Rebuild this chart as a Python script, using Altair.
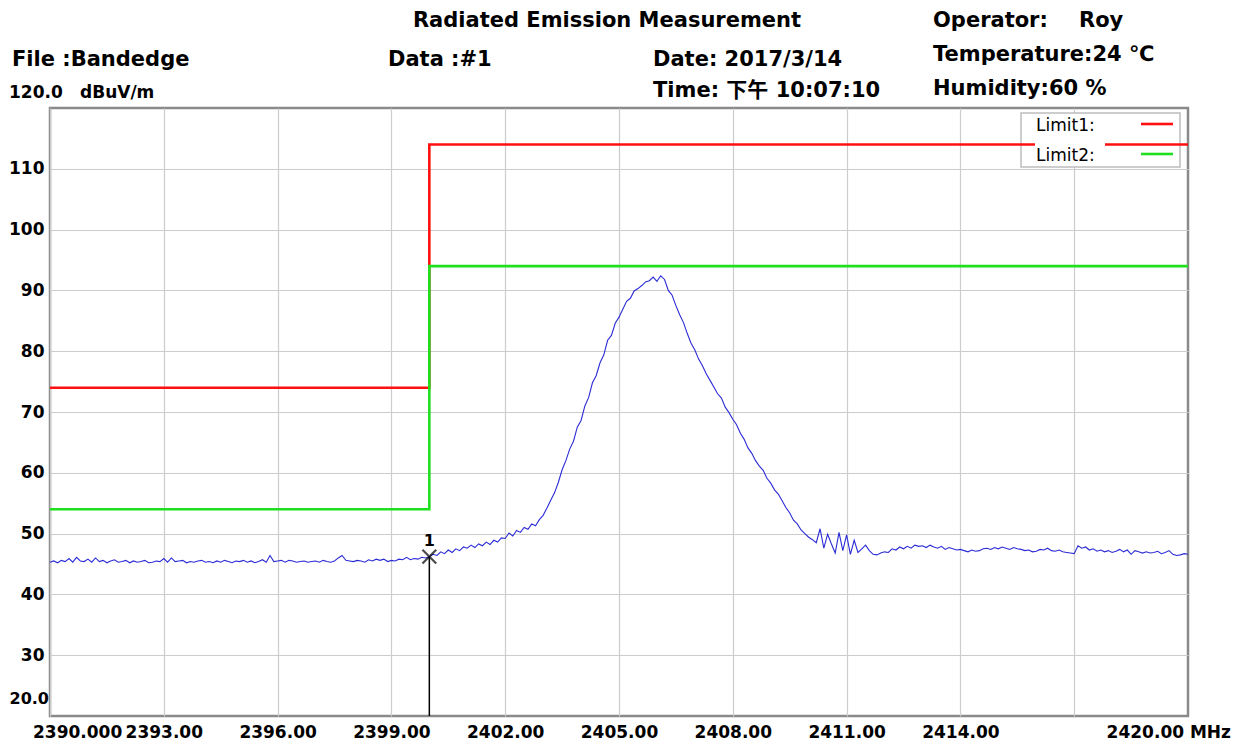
import altair as alt
import pandas as pd

# ---------------- data ----------------
FREQ_START = 2390.0   # MHz, first sweep point
FREQ_STEP = 0.1       # MHz between sweep points

level_dbuv = [
    45.3, 45.5, 45.2, 45.6, 45.4, 45.9, 45.3, 46.1, 45.5, 45.4,
    45.8, 45.3, 46.0, 45.4, 45.6, 45.2, 45.5, 45.7, 45.3, 45.4,
    45.6, 45.2, 45.5, 45.3, 45.4, 45.6, 45.2, 45.3, 45.5, 45.4,
    45.9, 45.3, 46.0, 45.4, 45.5, 45.6, 45.2, 45.4, 45.3, 45.5,
    45.6, 45.3, 45.4, 45.2, 45.5, 45.3, 45.6, 45.4, 45.2, 45.5,
    45.4, 45.6, 45.3, 45.5, 45.2, 45.4, 45.7, 45.3, 46.4, 45.4,
    45.5, 45.6, 45.3, 45.6, 45.5, 45.3, 45.4, 45.5, 45.3, 45.4,
    45.5, 45.3, 45.6, 45.4, 45.3, 45.5, 46.0, 46.4, 45.6, 45.5,
    45.4, 45.6, 45.5, 45.3, 45.7, 45.5, 45.8, 45.6, 45.8, 45.4,
    45.6, 45.5, 45.8, 45.7, 46.1, 45.7, 45.9, 45.8, 46.1, 46.0,
    46.2, 46.6, 46.4, 47.0, 46.7, 47.3, 46.9, 47.5, 47.2, 47.8,
    47.6, 48.1, 47.7, 48.3, 48.0, 48.6, 48.2, 48.9, 48.6, 49.3,
    49.2, 50.1, 49.6, 50.5, 50.2, 51.0, 50.7, 51.6, 51.3, 52.3,
    53.0, 54.2, 55.5, 56.7, 58.4, 60.5, 62.0, 63.9, 65.2, 67.5,
    68.6, 71.0, 72.4, 74.8, 76.0, 78.1, 79.4, 81.8, 82.6, 84.6,
    85.6, 86.9, 88.2, 88.7, 89.9, 90.3, 90.8, 91.4, 91.6, 92.2,
    91.5, 92.4, 91.8, 90.0, 89.2, 87.5, 86.0, 84.7, 82.9, 81.3,
    80.2, 78.7, 77.6, 76.3, 75.2, 74.1, 73.0, 72.3, 70.8, 69.9,
    68.8, 67.9, 66.5, 65.5, 64.1, 63.2, 62.0, 61.1, 60.4, 59.1,
    58.3, 57.2, 56.5, 55.4, 54.3, 53.4, 52.2, 51.6, 50.6, 50.0,
    49.4, 49.0, 48.5, 50.8, 47.6, 49.9, 48.3, 46.8, 50.2, 47.2,
    49.8, 46.6, 48.9, 46.9, 47.5, 48.1, 47.2, 46.6, 46.5, 46.8,
    47.0, 46.9, 47.5, 47.3, 47.8, 47.5, 47.9, 47.6, 48.1, 47.9,
    48.0, 47.7, 48.1, 47.8, 47.6, 47.9, 47.4, 47.7, 47.5, 47.3,
    47.4, 47.2, 47.0, 47.3, 47.1, 47.2, 47.5, 47.6, 47.4, 47.7,
    47.5, 47.8, 47.6, 47.4, 47.7, 47.5, 47.4, 47.2, 47.3, 47.0,
    47.1, 47.4, 47.3, 47.6, 47.2, 47.1, 47.3, 47.0, 46.9, 46.8,
    46.7, 48.0, 47.6, 47.8, 47.3, 47.5, 47.1, 47.3, 47.0, 47.2,
    46.9, 47.1, 47.4, 47.0, 47.3, 46.6, 47.2, 47.0, 46.8, 47.0,
    46.8, 46.9, 47.1, 46.7, 46.9, 47.2, 46.6, 46.4, 46.5, 46.7,
    46.6,
]

limit_freq = [2390, 2400, 2400, 2420]
limit1_level = [74, 74, 114, 114]
limit2_level = [54, 54, 94, 94]

marker_freq = [2400.0]
marker_level = [46.2]
marker_name = ["1"]

y_ticks = [30, 40, 50, 60, 70, 80, 90, 100, 110]
x_ticks = [2390, 2393, 2396, 2399, 2402, 2405, 2408, 2411, 2414, 2417]

# header texts: (text, x, center y, align, size, weight) in page pixels
header = [
    ("Radiated Emission Measurement", 607, 21, "center", 21, "bold"),
    ("Operator:", 933, 21, "left", 21, "bold"),
    ("Roy", 1079, 21, "left", 21, "bold"),
    ("File :Bandedge", 12, 60, "left", 21, "bold"),
    ("Data :#1", 388, 60, "left", 21, "bold"),
    ("Date: 2017/3/14", 653, 60, "left", 21, "bold"),
    ("Temperature:24 ℃", 933, 55, "left", 21, "bold"),
    ("120.0", 9, 93, "left", 17, "bold"),
    ("dBuV/m", 80, 93, "left", 17, "bold"),
    ("Time: 下午 10:07:10", 653, 91, "left", 21, "bold"),
    ("Humidity:60 %", 933, 89, "left", 21, "bold"),
    ("2390.000", 33, 733, "left", 17, "bold"),
    ("2420.00 MHz", 1231, 733, "right", 17, "bold"),
    ("20.0", 49, 699, "right", 16, "bold"),
]

# ---------------- layout ----------------
PLOT_LEFT, PLOT_TOP = 50, 108
W, H = 1138, 608
FONT = "DejaVu Sans, Noto Sans CJK SC"

freq = [round(FREQ_START + i * FREQ_STEP, 1) for i in range(len(level_dbuv))]
trace_df = pd.DataFrame({"freq": freq, "level": level_dbuv})

lim_rows = []
for i, (f, a, b) in enumerate(zip(limit_freq, limit1_level, limit2_level)):
    lim_rows.append({"freq": f, "level": a, "limit": "Limit1", "o": i})
    lim_rows.append({"freq": f, "level": b, "limit": "Limit2", "o": i})
lim_df = pd.DataFrame(lim_rows)

mk_df = pd.DataFrame({"freq": marker_freq, "level": marker_level, "name": marker_name,
                      "floor": [20] * len(marker_freq)})

xscale = alt.Scale(domain=[2390, 2420], nice=False, zero=False)
yscale = alt.Scale(domain=[20, 120], nice=False, zero=False)

xaxis = alt.Axis(values=x_ticks, title=None, grid=True, ticks=False, domain=False,
                 labelExpr="(datum.value == 2390 || datum.value == 2417) ? '' : format(datum.value, '.2f')",
                 labelFont=FONT, labelFontSize=17, labelFontWeight="bold", labelColor="#000",
                 labelPadding=8, labelOverlap=False, labelFlush=False,
                 gridColor="#cccccc", gridWidth=1.2)
yaxis = alt.Axis(values=y_ticks, title=None, grid=True, ticks=False, domain=False,
                 labelFont=FONT, labelFontSize=17, labelFontWeight="bold", labelColor="#000",
                 labelPadding=6, labelOverlap=False,
                 gridColor="#cccccc", gridWidth=1.2)

X = alt.X("freq:Q", scale=xscale, axis=xaxis)
Y = alt.Y("level:Q", scale=yscale, axis=yaxis)

trace = alt.Chart(trace_df).mark_line(color="#2b2bd6", strokeWidth=1.1).encode(x=X, y=Y)

one = pd.DataFrame({"k": [0]})
legend_box = alt.Chart(one).mark_rect(fill="white", stroke="#bdbdbd", strokeWidth=1.5).encode(
    x=alt.value(1021 - PLOT_LEFT), x2=alt.value(1180 - PLOT_LEFT),
    y=alt.value(113 - PLOT_TOP), y2=alt.value(167 - PLOT_TOP))

limits = alt.Chart(lim_df).mark_line(strokeWidth=2.6, interpolate="linear").encode(
    x=X, y=Y, order="o:Q",
    color=alt.Color("limit:N", scale=alt.Scale(domain=["Limit1", "Limit2"],
                                               range=["#ff1010", "#1fe01f"]), legend=None))

legend_mask = alt.Chart(one).mark_rect(fill="white").encode(
    x=alt.value(1035 - PLOT_LEFT), x2=alt.value(1105 - PLOT_LEFT),
    y=alt.value(116 - PLOT_TOP), y2=alt.value(165 - PLOT_TOP))

leg_txt = []
for name, yy, col in [("Limit1:", 126, "#ff1010"), ("Limit2:", 156, "#1fe01f")]:
    leg_txt.append(alt.Chart(pd.DataFrame({"t": [name]})).mark_text(
        align="left", baseline="middle", font=FONT, fontSize=17, color="#000").encode(
        x=alt.value(1036 - PLOT_LEFT), y=alt.value(yy - PLOT_TOP), text="t:N"))
    leg_txt.append(alt.Chart(one).mark_rule(color=col, strokeWidth=2.6).encode(
        x=alt.value(1141 - PLOT_LEFT), x2=alt.value(1173 - PLOT_LEFT),
        y=alt.value(yy - 2 - PLOT_TOP)))

mk_rule = alt.Chart(mk_df).mark_rule(color="#000", strokeWidth=1.5).encode(
    x=X, y=Y, y2="floor:Q")
mk_point = alt.Chart(mk_df).mark_point(
    shape="M-1,-1L1,1M1,-1L-1,1", size=190, filled=False, color="#000", strokeWidth=2.2).encode(x=X, y=Y)
mk_text = alt.Chart(mk_df).mark_text(dy=-16, font=FONT, fontSize=16, fontWeight="bold",
                                     color="#000").encode(x=X, y=Y, text="name:N")

texts = []
for t, px, py, al, fs, fw in header:
    texts.append(alt.Chart(pd.DataFrame({"t": [t]})).mark_text(
        align=al, baseline="middle", font=FONT, fontSize=fs, fontWeight=fw, color="#000").encode(
        x=alt.value(px - PLOT_LEFT), y=alt.value(py - PLOT_TOP), text="t:N"))

chart = alt.layer(trace, legend_box, limits, legend_mask, *leg_txt, mk_rule, mk_point, mk_text,
                  *texts).properties(
    width=W, height=H,
    autosize=alt.AutoSizeParams(type="none", contains="content"),
    padding={"left": PLOT_LEFT - 8, "top": PLOT_TOP - 8, "right": 48, "bottom": 30},
    background="white",
).configure_view(stroke="#8a8a8a", strokeWidth=2.5)

chart.save("out.html", embed_options={"renderer": "svg", "actions": False})
